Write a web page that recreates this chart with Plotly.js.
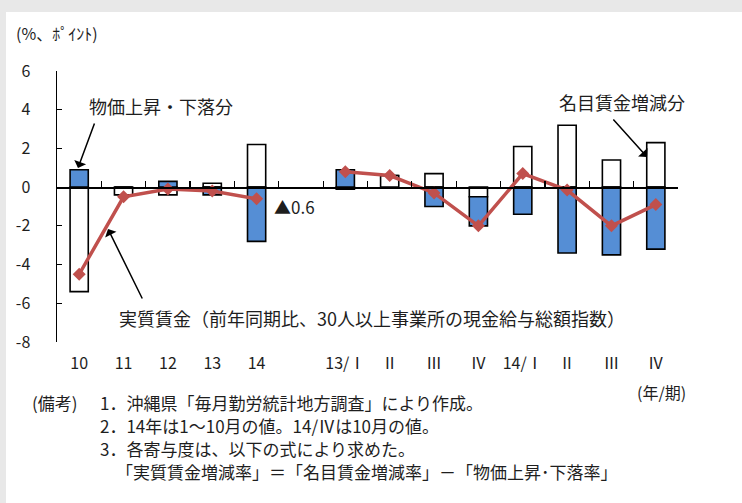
<!DOCTYPE html>
<html>
<head>
<meta charset="utf-8">
<script src="https://cdn.plot.ly/plotly-3.0.1.min.js"></script>
<style>
  html, body { margin: 0; padding: 0; background: #e8e8e8; width: 742px; height: 503px; overflow: hidden; }
  #chart { position: absolute; left: 6px; top: 12px; width: 736px; height: 491px; background: #ffffff; }
</style>
</head>
<body>
<div id="chart"></div>
<script>
// ---- data ----
const categories = ["10", "11", "12", "13", "14", "_", "13/Ⅰ", "13/Ⅱ", "13/Ⅲ", "13/Ⅳ", "14/Ⅰ", "14/Ⅱ", "14/Ⅲ", "14/Ⅳ"];
const tickLabels = ["10", "11", "12", "13", "14", "", "13/Ⅰ", "Ⅱ", "Ⅲ", "Ⅳ", "14/Ⅰ", "Ⅱ", "Ⅲ", "Ⅳ"];
const nominalWage = [-5.4, -0.4, -0.4, 0.2, 2.2, null, -0.1, 0.6, 0.7, -0.5, 2.1, 3.2, 1.4, 2.3];
const priceEffect = [0.9, 0.0, 0.3, -0.4, -2.8, null, 0.9, 0.0, -1.0, -1.5, -1.4, -3.4, -3.5, -3.2];
const realWage = [-4.5, -0.5, -0.1, -0.2, -0.6, null, 0.8, 0.6, -0.3, -2.0, 0.7, -0.15, -2.0, -0.9];
const yTickVals = [6, 4, 2, 0, -2, -4, -6, -8];
const yTickText = ["6", "4", "2", "0", "-2", "-4", "-6", "-8"];

const FONT = '"Noto Sans CJK JP", "Noto Sans", sans-serif';
const TXT = '#1e1e1e';

// plot area in page pixels (for positioning annotations); div is offset by (6,12)
const PX0 = 57, PX1 = 678, PY0 = 342, PY1 = 71;
const px = x => (x - PX0) / (PX1 - PX0);
const py = y => (PY0 - y) / (PY0 - PY1);

const traces = [
  { type: 'bar', name: '名目賃金増減分', x: categories, y: nominalWage,
    marker: { color: '#ffffff', line: { color: '#000000', width: 1.6 } }, xaxis: 'x', yaxis: 'y' },
  { type: 'bar', name: '物価上昇・下落分', x: categories, y: priceEffect,
    marker: { color: '#558ed5', line: { color: '#000000', width: 1.6 } }, xaxis: 'x', yaxis: 'y' },
  { type: 'scatter', mode: 'lines+markers', name: '実質賃金', x: categories, y: realWage,
    connectgaps: false,
    line: { color: '#c0504d', width: 3.5 },
    marker: { symbol: 'diamond', size: 10, color: '#c0504d' }, xaxis: 'x2', yaxis: 'y' }
];

function note(text, x, y, opts) {
  return Object.assign({ text: text, xref: 'paper', yref: 'paper', x: px(x), y: py(y),
    showarrow: false, xanchor: 'left', yanchor: 'middle', align: 'left',
    font: { family: FONT, size: 18, color: TXT } }, opts || {});
}
function arrow(hx, hy, tx, ty) {
  return { text: '', xref: 'paper', yref: 'paper', x: px(hx), y: py(hy),
    ax: tx - hx, ay: ty - hy, showarrow: true, arrowhead: 1, arrowsize: 1.4,
    arrowwidth: 1.5, arrowcolor: '#000000', standoff: 0, startstandoff: 0 };
}

const NOTE_FONT = { family: FONT, size: 17, color: TXT };

const layout = {
  width: 736, height: 491,
  margin: { l: 51, r: 64, t: 59, b: 161, pad: 0 },
  paper_bgcolor: '#ffffff', plot_bgcolor: 'rgba(0,0,0,0)',
  showlegend: false, hovermode: false,
  barmode: 'relative', bargap: 0.59,
  font: { family: FONT, color: TXT },
  xaxis: {
    type: 'category', categoryorder: 'array', categoryarray: categories,
    range: [-0.5, 13.5], tickmode: 'array', tickvals: categories, ticktext: tickLabels,
    showline: false, showgrid: false, zeroline: false, ticks: '',
    ticklabelstandoff: 10, tickfont: { family: FONT, size: 16, color: TXT }, fixedrange: true
  },
  xaxis2: {
    type: 'category', categoryorder: 'array', categoryarray: categories,
    overlaying: 'x', anchor: 'free', position: 8 / 14, side: 'bottom',
    range: [-0.5, 13.5], showline: true, linecolor: '#000000', linewidth: 1.5,
    showgrid: false, zeroline: false, ticks: 'inside', tickson: 'boundaries',
    ticklen: 6, tickwidth: 1.2, tickcolor: '#000000', showticklabels: false, fixedrange: true
  },
  yaxis: {
    range: [-8, 6], tickmode: 'array', tickvals: yTickVals, ticktext: yTickText,
    showline: true, linecolor: '#000000', linewidth: 1.5, mirror: false,
    ticks: 'inside', ticklen: 5, tickwidth: 1.2, tickcolor: '#000000',
    showgrid: false, zeroline: false, ticklabelstandoff: 22,
    tickfont: { family: FONT, size: 16, color: TXT }, fixedrange: true
  },
  annotations: [
    note('(%、ﾎﾟｲﾝﾄ)', 57, 33, { xanchor: 'center', font: { family: FONT, size: 16, color: TXT } }),
    note('物価上昇・下落分', 161, 106, { xanchor: 'center' }),
    note('名目賃金増減分', 622, 102, { xanchor: 'center' }),
    note('実質賃金（前年同期比、30人以上事業所の現金給与総額指数）', 372, 318, { xanchor: 'center' }),
    note('▲0.6', 272, 206, { font: { family: FONT, size: 17, color: TXT } }),
    note('(年/期)', 661, 392, { xanchor: 'center', font: { family: FONT, size: 16, color: TXT } }),
    note('(備考)', 30, 402, { font: NOTE_FONT }),
    note('1．沖縄県「毎月勤労統計地方調査」により作成。', 98, 402, { font: NOTE_FONT }),
    note('2．14年は1～10月の値。14/Ⅳは10月の値。', 98, 425, { font: NOTE_FONT }),
    note('3．各寄与度は、以下の式により求めた。', 98, 448, { font: NOTE_FONT }),
    note('「実質賃金増減率」＝「名目賃金増減率」－「物価上昇･下落率」', 114, 471, { font: NOTE_FONT }),
    arrow(78, 168, 95, 122),
    arrow(108, 229, 143, 300),
    arrow(647, 157, 612, 118)
  ]
};

Plotly.newPlot('chart', traces, layout, { displayModeBar: false, staticPlot: true });
</script>
</body>
</html>
